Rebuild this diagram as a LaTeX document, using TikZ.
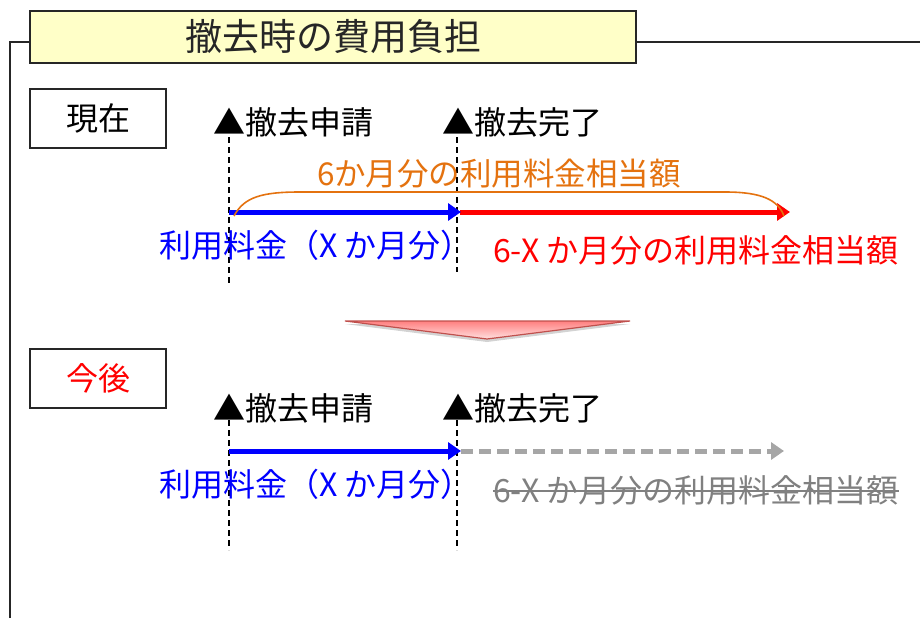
\documentclass[tikz,border=0pt]{standalone}
\usepackage{fontspec}
\setmainfont{Noto Sans CJK JP}
\usetikzlibrary{arrows.meta,shadows,calc}
\definecolor{titlefill}{HTML}{FFFFC8}
\definecolor{orng}{HTML}{E4720F}
\definecolor{garrow}{HTML}{A6A6A6}
\definecolor{gtext}{HTML}{808080}
\definecolor{dred}{HTML}{C0504D}
\tikzset{
  frameline/.style={line width=1.8pt, draw=black!85},
  labelbox/.style={draw=black!85, line width=1.8pt, fill=white, minimum width=136pt, minimum height=59pt, inner sep=0pt, font=\fontsize{32}{32}\selectfont},
  evt/.style={anchor=west, inner sep=0pt, font=\fontsize{32}{32}\selectfont},
  lbl/.style={anchor=west, inner sep=0pt, font=\fontsize{32}{32}\selectfont},
  vdash/.style={black, line width=1.1pt, dash pattern=on 6pt off 4pt},
  fatarrow/.style={line width=5pt, -{Triangle[length=13pt,width=17pt]}},
}
\begin{document}
\begin{tikzpicture}[x=1pt,y=-1pt]
\useasboundingbox (0,0) rectangle (920,618);
% frame and title
\coordinate (fb) at (10,618);
\coordinate (tl) at (30,42);
\coordinate (tr) at (636,42);
\coordinate (fr) at (920,42);
\draw[frameline] (fb) |- (tl);
\draw[frameline] (tr) -- (fr);
\node[draw=black!85, line width=1.8pt, fill=titlefill, minimum width=606pt, minimum height=52pt, inner sep=0pt, font=\fontsize{37}{37}\selectfont, text=black!85] (title) at (333,37) {撤去時の費用負担};
% boxes
\node[labelbox] (now) at (98,118.5) {現在};
\node[labelbox, text=red] (future) at (98,378.5) {今後};
% top section
\coordinate (d1t) at (229,137); \coordinate (d1b) at (229,285);
\coordinate (d2t) at (457,137); \coordinate (d2b) at (457,272);
\draw[vdash] (d1t) -- (d1b);
\draw[vdash] (d2t) -- (d2b);
\node[evt] (req1) at (213,122) {▲撤去申請};
\node[evt] (done1) at (442,122) {▲撤去完了};
\coordinate (b1s) at (229,212); \coordinate (b1e) at (461,212);
\coordinate (r1s) at (460,212); \coordinate (r1e) at (790,212);
\draw[fatarrow, red] (r1s) -- (r1e);
\draw[fatarrow, blue] (b1s) -- (b1e);
\coordinate (o1) at (234,216);
\coordinate (o2) at (300,192);
\coordinate (o3) at (725,192);
\coordinate (o4) at (784,216);
\draw[orng, line width=1.6pt] (o1) .. controls (244,197) and (262,192) .. (o2) -- (o3) .. controls (762,192) and (778,200) .. (o4);
\node[inner sep=0pt, text=orng, font=\fontsize{31.5}{31.5}\selectfont] (olbl) at (499,174) {6か月分の利用料金相当額};
\node[lbl, text=blue] (blbl1) at (159,245) {利用料金（X か月分）};
\node[lbl, text=red] (rlbl) at (493,250) {6-X か月分の利用料金相当額};
% down arrow
\coordinate (ta) at (345,321);
\coordinate (tb) at (630,321);
\coordinate (tc) at (487,339);
\draw[dred, line width=1.2pt, top color=red!50!white, bottom color=red!12!white, drop shadow={shadow xshift=0pt, shadow yshift=-3pt, opacity=0.35}] (ta) -- (tb) -- (tc) -- cycle;
% bottom section
\coordinate (d3t) at (229,420); \coordinate (d3b) at (229,550);
\coordinate (d4t) at (457,420); \coordinate (d4b) at (457,550);
\draw[vdash] (d3t) -- (d3b);
\draw[vdash] (d4t) -- (d4b);
\node[evt] (req2) at (213,408) {▲撤去申請};
\node[evt] (done2) at (442,408) {▲撤去完了};
\coordinate (b2s) at (229,451); \coordinate (b2e) at (461,451);
\coordinate (g2s) at (461,451); \coordinate (g2e) at (784,451);
\draw[line width=5pt, garrow, dash pattern=on 12pt off 6pt, -{Triangle[length=13pt,width=17pt]}] (g2s) -- (g2e);
\draw[fatarrow, blue] (b2s) -- (b2e);
\node[lbl, text=blue] (blbl2) at (159,484) {利用料金（X か月分）};
\node[lbl, text=gtext] (glbl) at (493,490) {6-X か月分の利用料金相当額};
\draw[gtext, line width=1.3pt] ([yshift=-1pt]glbl.west) -- ([yshift=-1pt]glbl.east);
\end{tikzpicture}
\end{document}
